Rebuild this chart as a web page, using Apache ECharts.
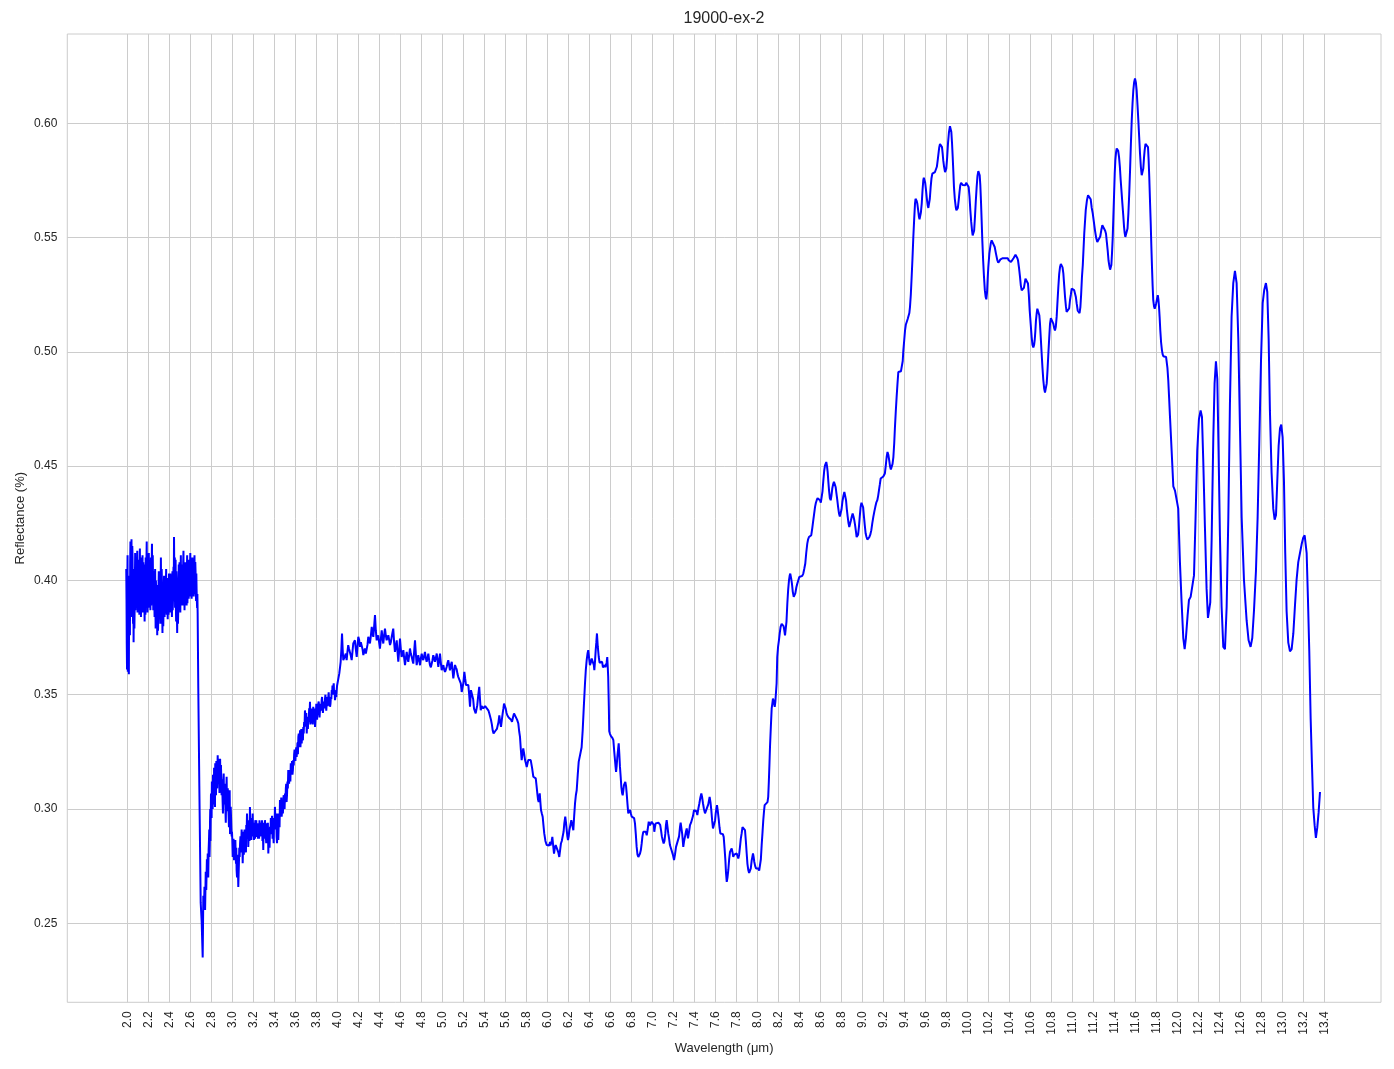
<!DOCTYPE html>
<html><head><meta charset="utf-8">
<script src="https://cdn.jsdelivr.net/npm/echarts@6/dist/echarts.min.js"></script>
<style>html,body{margin:0;padding:0;background:#fff}#c{width:1394px;height:1069px}</style>
</head><body><div id="c"></div><script>
// [wavelength (µm), reflectance]
const nirBand = [[1.990,0.405],[1.995,0.372],[2.000,0.398],[2.005,0.360],[2.010,0.389],[2.015,0.359],[2.020,0.402],[2.025,0.376],[2.030,0.417],[2.035,0.384],[2.040,0.418],[2.045,0.392],[2.050,0.410],[2.055,0.381],[2.060,0.373],[2.065,0.405],[2.070,0.388],[2.075,0.412],[2.080,0.393],[2.085,0.406],[2.090,0.389],[2.095,0.413],[2.100,0.395],[2.105,0.388],[2.110,0.409],[2.115,0.385],[2.120,0.414],[2.125,0.398],[2.130,0.384],[2.135,0.407],[2.140,0.392],[2.145,0.411],[2.150,0.394],[2.155,0.386],[2.160,0.404],[2.165,0.382],[2.170,0.396],[2.175,0.410],[2.180,0.391],[2.185,0.417],[2.190,0.399],[2.195,0.407],[2.200,0.388],[2.205,0.412],[2.210,0.393],[2.215,0.403],[2.220,0.387],[2.225,0.410],[2.230,0.395],[2.235,0.416],[2.240,0.392],[2.245,0.401],[2.250,0.389],[2.255,0.398],[2.260,0.384],[2.265,0.405],[2.270,0.379],[2.275,0.394],[2.280,0.386],[2.285,0.376],[2.290,0.398],[2.295,0.383],[2.300,0.404],[2.305,0.388],[2.310,0.396],[2.315,0.381],[2.320,0.410],[2.325,0.387],[2.330,0.399],[2.335,0.377],[2.340,0.393],[2.345,0.386],[2.350,0.402],[2.355,0.384],[2.360,0.397],[2.365,0.389],[2.370,0.405],[2.375,0.385],[2.380,0.395],[2.385,0.383],[2.390,0.401],[2.395,0.390],[2.400,0.397],[2.405,0.386],[2.410,0.403],[2.415,0.392],[2.420,0.399],[2.425,0.384],[2.430,0.404],[2.435,0.391],[2.440,0.406],[2.445,0.419],[2.450,0.395],[2.455,0.388],[2.460,0.409],[2.465,0.382],[2.470,0.400],[2.475,0.377],[2.480,0.393],[2.485,0.386],[2.490,0.407],[2.495,0.390],[2.500,0.402],[2.505,0.386],[2.510,0.411],[2.515,0.395],[2.520,0.389],[2.525,0.405],[2.530,0.392],[2.535,0.413],[2.540,0.396],[2.545,0.387],[2.550,0.408],[2.555,0.394],[2.560,0.402],[2.565,0.389],[2.570,0.411],[2.575,0.397],[2.580,0.404],[2.585,0.392],[2.590,0.409],[2.595,0.398],[2.600,0.412],[2.605,0.393],[2.610,0.403],[2.615,0.396],[2.620,0.410],[2.625,0.394],[2.630,0.406],[2.635,0.399],[2.640,0.411],[2.645,0.397],[2.650,0.404],[2.655,0.391],[2.660,0.396],[2.665,0.388],[2.670,0.386]];

const nirBandFine = [[1.9925,0.392],[1.9975,0.361],[2.0025,0.411],[2.0075,0.395],[2.0125,0.368],[2.0175,0.398],[2.0225,0.385],[2.0275,0.408],[2.0325,0.395],[2.0375,0.409],[2.0425,0.386],[2.0475,0.415],[2.0525,0.389],[2.0575,0.402],[2.0625,0.398],[2.0675,0.379],[2.0725,0.401],[2.0775,0.387],[2.0825,0.410],[2.0875,0.391],[2.0925,0.402],[2.0975,0.386],[2.1025,0.408],[2.1075,0.400],[2.1125,0.393],[2.1175,0.406],[2.1225,0.389],[2.1275,0.410],[2.1325,0.396],[2.1375,0.386],[2.1425,0.404],[2.1475,0.389],[2.1525,0.408],[2.1575,0.397],[2.1625,0.390],[2.1675,0.407],[2.1725,0.385],[2.1775,0.398],[2.1825,0.409],[2.1875,0.393],[2.1925,0.386],[2.1975,0.395],[2.2025,0.402],[2.2075,0.390],[2.2125,0.408],[2.2175,0.392],[2.2225,0.402],[2.2275,0.389],[2.2325,0.407],[2.2375,0.400],[2.2425,0.411],[2.2475,0.387],[2.2525,0.404],[2.2575,0.390],[2.2625,0.399],[2.2675,0.390],[2.2725,0.400],[2.2775,0.380],[2.2825,0.398],[2.2875,0.389],[2.2925,0.378],[2.2975,0.397],[2.3025,0.385],[2.3075,0.401],[2.3125,0.389],[2.3175,0.398],[2.3225,0.393],[2.3275,0.405],[2.3325,0.386],[2.3375,0.399],[2.3425,0.380],[2.3475,0.396],[2.3525,0.391],[2.3575,0.400],[2.3625,0.386],[2.3675,0.398],[2.3725,0.392],[2.3775,0.401],[2.3825,0.389],[2.3875,0.397],[2.3925,0.385],[2.3975,0.403],[2.4025,0.391],[2.4075,0.399],[2.4125,0.388],[2.4175,0.402],[2.4225,0.390],[2.4275,0.398],[2.4325,0.387],[2.4375,0.400],[2.4425,0.395],[2.4475,0.404],[2.4525,0.410],[2.4575,0.396],[2.4625,0.390],[2.4675,0.404],[2.4725,0.386],[2.4775,0.397],[2.4825,0.381],[2.4875,0.398],[2.4925,0.392],[2.4975,0.408],[2.5025,0.391],[2.5075,0.404],[2.5125,0.390],[2.5175,0.407],[2.5225,0.399],[2.5275,0.391],[2.5325,0.408],[2.5375,0.389],[2.5425,0.405],[2.5475,0.399],[2.5525,0.390],[2.5575,0.406],[2.5625,0.395],[2.5675,0.404],[2.5725,0.390],[2.5775,0.409],[2.5825,0.399],[2.5875,0.403],[2.5925,0.393],[2.5975,0.407],[2.6025,0.401],[2.6075,0.409],[2.6125,0.392],[2.6175,0.405],[2.6225,0.398],[2.6275,0.409],[2.6325,0.393],[2.6375,0.405],[2.6425,0.394],[2.6475,0.408],[2.6525,0.397],[2.6575,0.403],[2.6625,0.391],[2.6675,0.394]];

const dropBand = [[2.676,0.353],[2.686,0.310],[2.699,0.259],[2.708,0.251],[2.718,0.235],[2.724,0.262],[2.730,0.2565],[2.735,0.266],[2.741,0.2558],[2.747,0.2725],[2.752,0.2645],[2.758,0.278],[2.766,0.2805],[2.771,0.270],[2.778,0.2864],[2.783,0.279],[2.788,0.2951],[2.792,0.286],[2.797,0.3068],[2.803,0.296],[2.808,0.309],[2.813,0.300],[2.819,0.3111],[2.824,0.302],[2.829,0.313],[2.835,0.3009],[2.840,0.316],[2.845,0.306],[2.851,0.3184],[2.856,0.309],[2.861,0.3235],[2.866,0.311],[2.873,0.317],[2.878,0.307],[2.884,0.322],[2.892,0.3192],[2.898,0.306],[2.905,0.3082],[2.911,0.298],[2.918,0.3155],[2.924,0.302],[2.930,0.3053],[2.938,0.294],[2.946,0.3141],[2.952,0.299],[2.962,0.3009],[2.968,0.292],[2.975,0.3082],[2.982,0.295],[2.988,0.2966],[2.994,0.288]];

const dropBandFine = [[2.762,0.271],[2.7685,0.276],[2.7745,0.282],[2.7805,0.291],[2.7855,0.284],[2.790,0.300],[2.7945,0.297],[2.800,0.302],[2.8055,0.312],[2.8105,0.304],[2.816,0.315],[2.8215,0.306],[2.8265,0.318],[2.832,0.307],[2.8375,0.320],[2.8425,0.310],[2.848,0.321],[2.8535,0.312],[2.8585,0.318],[2.8635,0.314],[2.8695,0.322],[2.8755,0.312],[2.881,0.316],[2.888,0.309],[2.895,0.320],[2.9015,0.313],[2.908,0.303],[2.9145,0.312],[2.921,0.306],[2.927,0.311],[2.934,0.301],[2.942,0.307],[2.949,0.303],[2.957,0.309],[2.965,0.297],[2.9715,0.302],[2.9785,0.289],[2.985,0.301],[2.991,0.292],[2.997,0.290]];

const swirBand = [[3.000,0.2864],[3.008,0.281],[3.016,0.2776],[3.022,0.285],[3.029,0.2864],[3.035,0.276],[3.041,0.2733],[3.049,0.280],[3.057,0.2659],[3.063,0.276],[3.070,0.279],[3.078,0.288],[3.086,0.2864],[3.092,0.281],[3.099,0.2762],[3.106,0.290],[3.114,0.2893],[3.120,0.284],[3.127,0.2864],[3.133,0.293],[3.140,0.298],[3.146,0.287],[3.152,0.2834],[3.160,0.295],[3.168,0.3009],[3.174,0.290],[3.181,0.2864],[3.188,0.294],[3.194,0.298],[3.200,0.288],[3.206,0.2864],[3.213,0.292],[3.219,0.2951],[3.225,0.289],[3.232,0.2878],[3.240,0.293],[3.248,0.2937],[3.255,0.287],[3.263,0.2893],[3.270,0.294],[3.279,0.2922],[3.287,0.286],[3.295,0.282],[3.303,0.290],[3.311,0.2951],[3.319,0.289],[3.327,0.2937],[3.335,0.287],[3.343,0.2805],[3.351,0.290],[3.359,0.2922],[3.367,0.296],[3.375,0.2951],[3.383,0.287],[3.390,0.2893],[3.398,0.296],[3.406,0.3009],[3.414,0.292],[3.422,0.2878],[3.430,0.293],[3.438,0.2864],[3.446,0.297],[3.454,0.3039],[3.462,0.299],[3.470,0.2966],[3.478,0.303],[3.486,0.3046],[3.494,0.301],[3.502,0.3068],[3.510,0.309],[3.517,0.3031],[3.525,0.312],[3.533,0.317],[3.541,0.311],[3.549,0.3141],[3.557,0.320],[3.565,0.3177],[3.573,0.315],[3.581,0.3214],[3.589,0.324],[3.597,0.3232],[3.605,0.3254],[3.613,0.3228],[3.621,0.329],[3.629,0.3315],[3.637,0.327],[3.645,0.3344],[3.653,0.331],[3.661,0.3287],[3.669,0.334],[3.676,0.3359],[3.684,0.338],[3.692,0.3431],[3.700,0.337],[3.709,0.333],[3.716,0.339],[3.724,0.3403],[3.732,0.344],[3.740,0.3469],[3.748,0.341],[3.756,0.3374],[3.763,0.342],[3.771,0.3447],[3.779,0.339],[3.788,0.3359],[3.796,0.341],[3.804,0.3447],[3.811,0.343],[3.819,0.3461],[3.827,0.344],[3.835,0.3431],[3.843,0.346],[3.851,0.3476],[3.859,0.345],[3.867,0.3447],[3.875,0.347],[3.883,0.3483],[3.891,0.346],[3.899,0.3461],[3.906,0.349],[3.914,0.349],[3.922,0.347],[3.931,0.3447],[3.939,0.349],[3.947,0.352],[3.954,0.354],[3.962,0.3534],[3.970,0.350],[3.978,0.3476],[3.986,0.351],[3.994,0.352]];

const swirBandFine = [[3.004,0.279],[3.012,0.287],[3.019,0.282],[3.0255,0.279],[3.032,0.281],[3.038,0.283],[3.045,0.270],[3.053,0.275],[3.060,0.271],[3.0665,0.283],[3.074,0.285],[3.082,0.281],[3.089,0.291],[3.0955,0.286],[3.1025,0.284],[3.110,0.280],[3.117,0.291],[3.1235,0.289],[3.130,0.281],[3.1365,0.289],[3.143,0.292],[3.149,0.295],[3.156,0.289],[3.164,0.286],[3.171,0.295],[3.1775,0.296],[3.1845,0.291],[3.191,0.288],[3.197,0.292],[3.203,0.294],[3.2095,0.289],[3.216,0.287],[3.222,0.293],[3.2285,0.295],[3.236,0.289],[3.244,0.287],[3.2515,0.292],[3.259,0.295],[3.2665,0.288],[3.2745,0.289],[3.283,0.295],[3.291,0.291],[3.299,0.294],[3.307,0.287],[3.315,0.292],[3.323,0.285],[3.331,0.292],[3.339,0.294],[3.347,0.288],[3.355,0.283],[3.363,0.289],[3.371,0.290],[3.379,0.297],[3.3865,0.293],[3.394,0.285],[3.402,0.291],[3.410,0.296],[3.418,0.298],[3.426,0.285],[3.434,0.298],[3.442,0.293],[3.450,0.292],[3.458,0.297],[3.466,0.305],[3.474,0.299],[3.482,0.298],[3.490,0.306],[3.498,0.300],[3.506,0.303],[3.5135,0.311],[3.521,0.306],[3.529,0.309],[3.537,0.313],[3.545,0.317],[3.553,0.312],[3.561,0.316],[3.569,0.321],[3.577,0.317],[3.585,0.319],[3.593,0.326],[3.601,0.321],[3.609,0.327],[3.617,0.326],[3.625,0.324],[3.633,0.333],[3.641,0.329],[3.649,0.327],[3.657,0.335],[3.665,0.333],[3.6725,0.330],[3.680,0.333],[3.688,0.336],[3.696,0.341],[3.7045,0.342],[3.7125,0.338],[3.720,0.335],[3.728,0.338],[3.736,0.341],[3.744,0.337],[3.752,0.344],[3.7595,0.339],[3.767,0.337],[3.775,0.342],[3.7835,0.344],[3.792,0.339],[3.800,0.346],[3.8075,0.339],[3.815,0.341],[3.823,0.347],[3.831,0.340],[3.839,0.344],[3.847,0.343],[3.855,0.349],[3.863,0.342],[3.871,0.345],[3.879,0.344],[3.887,0.350],[3.895,0.343],[3.9025,0.347],[3.910,0.345],[3.918,0.351],[3.9265,0.349],[3.935,0.346],[3.943,0.348],[3.9505,0.350],[3.958,0.350],[3.966,0.355],[3.974,0.352],[3.982,0.349],[3.990,0.349],[3.998,0.354]];

const mwirBand = [[4.002,0.355],[4.010,0.3549],[4.019,0.3593],[4.026,0.362],[4.032,0.3644],[4.039,0.370],[4.045,0.3768],[4.051,0.370],[4.057,0.3651],[4.065,0.366],[4.073,0.3658],[4.081,0.368],[4.089,0.3651],[4.097,0.369],[4.104,0.3717],[4.112,0.370],[4.121,0.3695],[4.129,0.367],[4.137,0.3651],[4.145,0.369],[4.152,0.3724],[4.160,0.373],[4.168,0.3738],[4.176,0.370],[4.185,0.3665],[4.192,0.371],[4.200,0.3753],[4.208,0.374],[4.216,0.3709],[4.224,0.373],[4.232,0.3738],[4.240,0.370],[4.248,0.3673],[4.256,0.369],[4.264,0.3702],[4.272,0.368],[4.280,0.3673],[4.288,0.372],[4.295,0.3753],[4.303,0.374],[4.311,0.3724],[4.320,0.376],[4.328,0.3797],[4.335,0.377],[4.343,0.3753],[4.351,0.380],[4.359,0.3848],[4.367,0.378],[4.375,0.3738],[4.383,0.375],[4.390,0.376],[4.398,0.373],[4.406,0.3702],[4.414,0.374],[4.423,0.3782],[4.430,0.375],[4.438,0.3724],[4.446,0.376],[4.454,0.3789],[4.462,0.376],[4.470,0.3738],[4.478,0.375],[4.486,0.376],[4.494,0.374],[4.502,0.3717],[4.510,0.373],[4.518,0.3753],[4.525,0.377],[4.533,0.3789],[4.541,0.373],[4.549,0.3687],[4.557,0.371],[4.566,0.3738],[4.573,0.369],[4.581,0.3644],[4.589,0.369],[4.597,0.3746],[4.605,0.370],[4.613,0.3665],[4.621,0.368],[4.629,0.3695],[4.637,0.366],[4.645,0.3629],[4.653,0.366],[4.661,0.3687],[4.669,0.366],[4.676,0.3644],[4.684,0.367],[4.692,0.3702],[4.700,0.368],[4.709,0.3665],[4.716,0.365],[4.724,0.3636],[4.732,0.369],[4.740,0.3738],[4.748,0.368],[4.756,0.3629],[4.763,0.365],[4.771,0.3673],[4.780,0.365],[4.788,0.3629],[4.796,0.366],[4.804,0.368],[4.811,0.366],[4.819,0.3651],[4.827,0.367],[4.835,0.3687],[4.843,0.366],[4.851,0.3644],[4.859,0.366],[4.867,0.368],[4.875,0.365],[4.883,0.3629],[4.891,0.362],[4.899,0.3615],[4.906,0.365],[4.914,0.3673],[4.922,0.366],[4.930,0.3644],[4.938,0.366],[4.947,0.368],[4.955,0.365],[4.962,0.3622],[4.970,0.365],[4.978,0.368],[4.986,0.364],[4.994,0.3607],[5.002,0.362],[5.010,0.3629],[5.018,0.361],[5.026,0.360],[5.034,0.361],[5.042,0.3622],[5.050,0.364],[5.057,0.3651],[5.065,0.363],[5.073,0.3607],[5.081,0.363],[5.090,0.3644],[5.097,0.361],[5.105,0.3571],[5.113,0.360],[5.121,0.363],[5.129,0.362],[5.137,0.3611],[5.145,0.359],[5.152,0.3578],[5.160,0.358],[5.168,0.3585],[5.176,0.355],[5.185,0.3512],[5.192,0.353],[5.200,0.3549]];

const midBand = [[5.210,0.360],[5.218,0.357],[5.226,0.3542],[5.236,0.355],[5.248,0.3542],[5.256,0.350],[5.264,0.3447],[5.273,0.352],[5.286,0.352],[5.294,0.348],[5.302,0.3439],[5.318,0.3418],[5.333,0.3454],[5.343,0.350],[5.352,0.3534],[5.359,0.348],[5.366,0.3432],[5.374,0.345],[5.381,0.3454],[5.390,0.344],[5.400,0.3432],[5.408,0.345],[5.416,0.345],[5.424,0.344],[5.432,0.3439],[5.440,0.343],[5.448,0.3418],[5.456,0.341],[5.464,0.3389],[5.472,0.337],[5.480,0.3344],[5.488,0.333],[5.495,0.333],[5.503,0.334],[5.511,0.3337],[5.520,0.335],[5.528,0.3344],[5.535,0.338],[5.543,0.341],[5.551,0.338],[5.559,0.3359],[5.567,0.339],[5.575,0.3418],[5.582,0.344],[5.588,0.3461],[5.596,0.345],[5.604,0.3439],[5.612,0.342],[5.619,0.341],[5.632,0.340],[5.645,0.3403],[5.655,0.339],[5.664,0.3381],[5.673,0.340],[5.683,0.3418],[5.692,0.342],[5.702,0.341],[5.713,0.339],[5.724,0.3374],[5.732,0.334],[5.740,0.3315],[5.748,0.326],[5.756,0.3214],[5.763,0.324],[5.771,0.3265],[5.780,0.324],[5.788,0.3214],[5.796,0.320],[5.804,0.3184],[5.812,0.320],[5.819,0.3214],[5.830,0.3214],[5.842,0.3214],[5.855,0.318],[5.867,0.3141],[5.878,0.314],[5.890,0.3134],[5.898,0.310],[5.905,0.3068],[5.912,0.304],[5.918,0.3031],[5.923,0.305],[5.928,0.3068],[5.934,0.303],[5.940,0.2995],[5.948,0.298],[5.956,0.2966],[5.963,0.293],[5.971,0.2893],[5.982,0.286],[5.994,0.2842],[6.002,0.284],[6.010,0.2834],[6.018,0.284],[6.026,0.2856],[6.030,0.284],[6.035,0.2834],[6.042,0.286],[6.048,0.2878],[6.056,0.284],[6.064,0.2805],[6.072,0.283],[6.080,0.2842],[6.088,0.284],[6.095,0.2834],[6.105,0.281],[6.114,0.279],[6.122,0.282],[6.130,0.2849],[6.138,0.286],[6.147,0.2864],[6.155,0.290],[6.162,0.2937],[6.171,0.2966],[6.178,0.294],[6.185,0.2907],[6.191,0.288],[6.197,0.2864],[6.204,0.288],[6.210,0.2907],[6.220,0.293],[6.229,0.2951],[6.238,0.293],[6.248,0.2907],[6.256,0.297],[6.264,0.3024],[6.272,0.306],[6.280,0.3082],[6.290,0.315],[6.299,0.3206],[6.308,0.321],[6.318,0.3214],[6.327,0.327],[6.337,0.3344],[6.348,0.345],[6.359,0.3549],[6.367,0.361],[6.375,0.3651],[6.383,0.368],[6.390,0.3695],[6.398,0.366],[6.406,0.3629],[6.414,0.364],[6.423,0.3658],[6.430,0.366],[6.438,0.3651],[6.443,0.363],[6.448,0.3607],[6.455,0.365],[6.461,0.3695],[6.467,0.373],[6.473,0.3768],[6.481,0.371],[6.490,0.3665],[6.498,0.364],[6.506,0.3636],[6.514,0.364],[6.522,0.3644],[6.530,0.362],[6.535,0.3615],[6.542,0.362],[6.548,0.3629],[6.553,0.362],[6.557,0.3615],[6.565,0.364],[6.571,0.3665],[6.576,0.362],[6.580,0.3578],[6.586,0.345],[6.590,0.334]];

const lwirBand = [[6.596,0.333],[6.605,0.332],[6.613,0.3315],[6.621,0.331],[6.629,0.3301],[6.636,0.326],[6.642,0.3228],[6.649,0.319],[6.655,0.3162],[6.661,0.319],[6.667,0.3228],[6.674,0.326],[6.680,0.3287],[6.686,0.324],[6.692,0.3184],[6.699,0.314],[6.705,0.3097],[6.712,0.307],[6.718,0.306],[6.724,0.308],[6.730,0.3104],[6.737,0.311],[6.743,0.3118],[6.750,0.310],[6.756,0.3068],[6.764,0.302],[6.771,0.2981],[6.779,0.298],[6.788,0.2995],[6.796,0.298],[6.804,0.2966],[6.812,0.2966],[6.819,0.2966],[6.827,0.296],[6.835,0.2937],[6.843,0.289],[6.851,0.2834],[6.859,0.280],[6.867,0.279],[6.875,0.2795],[6.883,0.2805],[6.891,0.282],[6.899,0.2849],[6.906,0.288],[6.914,0.290],[6.922,0.2907],[6.930,0.2907],[6.938,0.290],[6.947,0.2885],[6.956,0.291],[6.966,0.2944],[6.972,0.294],[6.978,0.2929],[6.986,0.293],[6.994,0.2944],[7.002,0.295],[7.010,0.2951],[7.015,0.293],[7.019,0.290],[7.025,0.292],[7.032,0.2937],[7.040,0.294],[7.048,0.2944],[7.058,0.294],[7.067,0.2937],[7.075,0.293],[7.083,0.2907],[7.091,0.288],[7.099,0.2864],[7.108,0.2849],[7.116,0.286],[7.124,0.2893],[7.130,0.293],[7.137,0.2951],[7.145,0.292],[7.152,0.2893],[7.160,0.287],[7.168,0.2842],[7.176,0.283],[7.185,0.2827],[7.196,0.280],[7.207,0.2776],[7.216,0.280],[7.226,0.2834],[7.236,0.284],[7.245,0.2842],[7.255,0.288],[7.264,0.2922],[7.270,0.294],[7.276,0.2937],[7.285,0.289],[7.295,0.2834],[7.303,0.286],[7.311,0.2878],[7.320,0.290],[7.328,0.2915],[7.334,0.289],[7.340,0.2871],[7.350,0.290],[7.359,0.2929],[7.369,0.294],[7.378,0.2944],[7.388,0.297],[7.397,0.2995],[7.404,0.300],[7.410,0.3002],[7.420,0.299],[7.429,0.2973],[7.438,0.300],[7.448,0.3024],[7.458,0.305],[7.467,0.3068],[7.475,0.305],[7.483,0.3024],[7.492,0.300],[7.502,0.2981],[7.511,0.298],[7.521,0.2988],[7.533,0.302],[7.546,0.3053],[7.554,0.303],[7.562,0.2995],[7.570,0.295],[7.578,0.2915],[7.585,0.291],[7.591,0.2907],[7.598,0.295],[7.604,0.2981],[7.610,0.300],[7.616,0.3017],[7.624,0.299],[7.632,0.2958],[7.640,0.292],[7.648,0.2893],[7.656,0.290],[7.664,0.290],[7.672,0.289],[7.680,0.2878],[7.688,0.283],[7.696,0.2776],[7.702,0.272],[7.709,0.2681],[7.716,0.270],[7.724,0.2733],[7.732,0.278],[7.740,0.2812],[7.748,0.282],[7.756,0.2827],[7.764,0.281],[7.771,0.279],[7.780,0.280],[7.788,0.2805],[7.796,0.2805],[7.804,0.2805],[7.812,0.280],[7.819,0.2783],[7.827,0.280],[7.835,0.2834],[7.843,0.287],[7.851,0.2893],[7.859,0.292],[7.867,0.2922],[7.875,0.292],[7.883,0.2907],[7.891,0.286],[7.899,0.2805],[7.906,0.276],[7.914,0.2733],[7.922,0.272],[7.930,0.2725],[7.938,0.274],[7.947,0.2776],[7.953,0.279],[7.959,0.2805],[7.965,0.279],[7.971,0.2769],[7.980,0.275],[7.988,0.274],[7.999,0.274],[8.010,0.274],[8.018,0.273],[8.026,0.2733],[8.034,0.278],[8.042,0.2845],[8.050,0.290],[8.057,0.2951],[8.064,0.299],[8.070,0.3017],[8.080,0.3017],[8.089,0.3017],[8.097,0.303],[8.104,0.3053],[8.110,0.312],[8.116,0.320],[8.121,0.3272],[8.130,0.337],[8.137,0.344],[8.143,0.346],[8.149,0.3483],[8.157,0.347],[8.166,0.3447],[8.172,0.347],[8.178,0.3476],[8.184,0.355],[8.190,0.3665],[8.198,0.371]];

const riseBand = [[8.206,0.3738],[8.214,0.377],[8.222,0.3797],[8.232,0.381],[8.242,0.3818],[8.250,0.380],[8.257,0.3782],[8.264,0.376],[8.270,0.3753],[8.278,0.382],[8.286,0.3899],[8.294,0.396],[8.302,0.4001],[8.308,0.402],[8.314,0.403],[8.322,0.401],[8.330,0.3986],[8.338,0.395],[8.347,0.3928],[8.355,0.393],[8.362,0.3943],[8.372,0.397],[8.381,0.3986],[8.390,0.400],[8.400,0.4015],[8.410,0.4015],[8.419,0.4015],[8.428,0.402],[8.438,0.403],[8.447,0.405],[8.457,0.4074],[8.466,0.412],[8.476,0.4161],[8.484,0.418],[8.492,0.419],[8.503,0.419],[8.514,0.4198],[8.524,0.423],[8.533,0.4263],[8.541,0.429],[8.550,0.4322],[8.558,0.434],[8.566,0.4351],[8.574,0.436],[8.581,0.4365],[8.590,0.436],[8.597,0.4351],[8.605,0.434],[8.613,0.4343],[8.621,0.439],[8.629,0.4438],[8.637,0.448],[8.645,0.4504],[8.651,0.451],[8.657,0.4518],[8.664,0.450],[8.670,0.4475],[8.677,0.443],[8.683,0.4395],[8.691,0.436],[8.699,0.4351],[8.706,0.437],[8.714,0.4402],[8.722,0.442],[8.730,0.4431],[8.738,0.442],[8.746,0.4409],[8.754,0.438],[8.762,0.4351],[8.770,0.432],[8.778,0.4293],[8.786,0.428],[8.794,0.4278],[8.802,0.431],[8.810,0.4343],[8.820,0.437],[8.829,0.4387],[8.837,0.437],[8.845,0.4351],[8.853,0.431],[8.861,0.4278],[8.869,0.425],[8.876,0.4234],[8.884,0.424],[8.892,0.4263],[8.900,0.428],[8.908,0.4293],[8.916,0.428],[8.924,0.4263],[8.932,0.424],[8.940,0.4212],[8.946,0.419],[8.952,0.4183],[8.960,0.420],[8.968,0.4234],[8.976,0.428],[8.984,0.4322],[8.992,0.434],[9.000,0.4343],[9.008,0.432],[9.016,0.4278],[9.024,0.424],[9.032,0.4205],[9.040,0.419],[9.048,0.4179],[9.058,0.418],[9.067,0.419],[9.076,0.420],[9.086,0.422],[9.095,0.425],[9.105,0.4278],[9.114,0.430],[9.124,0.4322],[9.133,0.434],[9.143,0.4351],[9.151,0.437],[9.159,0.4395],[9.167,0.442],[9.175,0.4446],[9.183,0.445],[9.190,0.4453],[9.200,0.4455],[9.207,0.446],[9.215,0.4468],[9.223,0.450],[9.232,0.454],[9.240,0.4562],[9.248,0.455],[9.256,0.4526],[9.264,0.450],[9.272,0.4485],[9.280,0.4485],[9.288,0.451],[9.296,0.454],[9.304,0.460],[9.311,0.4671],[9.319,0.474],[9.327,0.4803],[9.335,0.486],[9.343,0.4912],[9.351,0.492],[9.359,0.492],[9.368,0.4915],[9.378,0.4912],[9.385,0.496],[9.391,0.5007],[9.399,0.505]];

const peakBand = [[9.407,0.5094],[9.415,0.512],[9.423,0.5131],[9.433,0.5145],[9.442,0.5153],[9.448,0.517],[9.454,0.5196],[9.462,0.525],[9.470,0.5328],[9.478,0.541],[9.486,0.5503],[9.494,0.558],[9.502,0.5649],[9.507,0.567],[9.512,0.5675],[9.518,0.566],[9.524,0.5649],[9.532,0.562],[9.540,0.559],[9.545,0.558],[9.550,0.5583],[9.558,0.561],[9.566,0.5649],[9.574,0.571],[9.581,0.5751],[9.586,0.5762],[9.591,0.5765],[9.599,0.574],[9.607,0.5707],[9.615,0.567],[9.623,0.5641],[9.629,0.563],[9.635,0.5634],[9.643,0.567],[9.651,0.5721],[9.659,0.576],[9.667,0.578],[9.675,0.5787],[9.683,0.5787],[9.692,0.5787],[9.702,0.5787],[9.710,0.581],[9.718,0.5838],[9.726,0.587],[9.733,0.5896],[9.740,0.591],[9.747,0.5916],[9.753,0.591],[9.759,0.5896],[9.765,0.587],[9.771,0.5838],[9.779,0.581],[9.788,0.5787],[9.794,0.579],[9.800,0.5802],[9.808,0.585],[9.816,0.5911],[9.825,0.596],[9.835,0.5988],[9.841,0.598],[9.848,0.5962],[9.855,0.591],[9.861,0.5853],[9.867,0.579],[9.873,0.5721],[9.881,0.567],[9.890,0.5634],[9.896,0.562],[9.902,0.5612],[9.910,0.563],[9.918,0.5663],[9.926,0.570],[9.933,0.5729],[9.941,0.574],[9.949,0.5743],[9.957,0.573],[9.965,0.5724],[9.973,0.573],[9.981,0.5729],[9.989,0.574],[9.997,0.5743],[10.005,0.574],[10.013,0.5721],[10.021,0.568],[10.029,0.5619],[10.037,0.557],[10.045,0.5532],[10.051,0.551],[10.057,0.5503],[10.065,0.553],[10.073,0.559],[10.081,0.566],[10.089,0.5721],[10.097,0.577],[10.105,0.5791],[10.111,0.579],[10.118,0.5773],[10.124,0.573],[10.130,0.5663],[10.137,0.557],[10.143,0.5488],[10.151,0.540],[10.159,0.5328],[10.167,0.527],[10.175,0.524],[10.181,0.523],[10.188,0.526],[10.194,0.532],[10.200,0.537],[10.210,0.543],[10.223,0.5474],[10.232,0.5488],[10.242,0.5491],[10.251,0.548],[10.261,0.5459],[10.273,0.543],[10.286,0.5401],[10.295,0.539],[10.305,0.5393],[10.316,0.5405],[10.327,0.5413],[10.338,0.541],[10.350,0.5405],[10.362,0.541],[10.375,0.5413],[10.385,0.541],[10.394,0.5401]];

const plateauBand = [[10.405,0.5395],[10.416,0.5393],[10.424,0.540],[10.432,0.5401],[10.440,0.541],[10.448,0.5418],[10.459,0.5425],[10.470,0.5426],[10.477,0.541],[10.483,0.5401],[10.492,0.537],[10.502,0.5328],[10.510,0.529],[10.518,0.5269],[10.525,0.5262],[10.531,0.5262],[10.539,0.528],[10.546,0.5299],[10.554,0.532],[10.562,0.5325],[10.570,0.532],[10.578,0.5299],[10.586,0.525],[10.594,0.5182],[10.604,0.512],[10.613,0.5065],[10.621,0.503],[10.629,0.5019],[10.636,0.503],[10.642,0.5051],[10.648,0.509],[10.654,0.5138],[10.661,0.517],[10.667,0.5189],[10.674,0.5195],[10.680,0.5189],[10.686,0.516],[10.692,0.5124],[10.700,0.506],[10.708,0.4993],[10.716,0.493],[10.724,0.4876],[10.732,0.484],[10.740,0.4822],[10.748,0.483],[10.756,0.4861],[10.764,0.492],[10.772,0.4993],[10.780,0.506],[10.788,0.5124],[10.796,0.5148],[10.804,0.5153],[10.812,0.514],[10.819,0.5124],[10.827,0.5105],[10.835,0.5094],[10.843,0.511],[10.851,0.5153],[10.859,0.522],[10.867,0.5284],[10.875,0.534],[10.883,0.5371],[10.891,0.5385],[10.899,0.5389],[10.907,0.537],[10.915,0.5342],[10.923,0.529],[10.931,0.524],[10.939,0.520],[10.946,0.5175],[10.954,0.5168],[10.962,0.5167],[10.970,0.519],[10.978,0.5226],[10.986,0.525],[10.994,0.5277],[11.002,0.5284],[11.010,0.5284],[11.018,0.527],[11.026,0.5262],[11.034,0.524],[11.042,0.5211],[11.052,0.518],[11.061,0.5172],[11.069,0.517],[11.077,0.5196],[11.084,0.525],[11.092,0.5328],[11.100,0.538],[11.114,0.552],[11.128,0.562],[11.140,0.5665],[11.150,0.5685],[11.158,0.5689],[11.167,0.568],[11.175,0.5668],[11.185,0.563],[11.195,0.5605],[11.205,0.557],[11.216,0.5532],[11.227,0.550],[11.238,0.5481],[11.247,0.5476],[11.256,0.5485],[11.266,0.5505],[11.276,0.5532],[11.286,0.5554],[11.296,0.5556],[11.305,0.5554],[11.313,0.553],[11.321,0.5517],[11.329,0.548],[11.337,0.5444],[11.345,0.540],[11.352,0.5379],[11.360,0.536],[11.366,0.536],[11.372,0.538],[11.378,0.543],[11.385,0.550],[11.391,0.559],[11.398,0.569],[11.404,0.578],[11.410,0.584],[11.417,0.5874],[11.423,0.589],[11.429,0.5894],[11.437,0.588],[11.445,0.5853],[11.453,0.581],[11.461,0.5751],[11.469,0.570],[11.477,0.5649],[11.485,0.560],[11.493,0.5546],[11.499,0.552],[11.505,0.5503],[11.512,0.550],[11.518,0.5503],[11.526,0.554],[11.534,0.5605],[11.542,0.569],[11.550,0.5794],[11.558,0.591],[11.566,0.6013],[11.574,0.609],[11.581,0.6144],[11.589,0.618],[11.597,0.6196],[11.605,0.618],[11.613,0.6144],[11.621,0.608],[11.629,0.6013],[11.637,0.594],[11.645,0.5867],[11.653,0.581],[11.661,0.5773],[11.668,0.578],[11.676,0.5802],[11.683,0.585],[11.689,0.5882],[11.697,0.591],[11.705,0.5918],[11.713,0.591],[11.721,0.5896],[11.727,0.584],[11.733,0.5765],[11.740,0.566],[11.747,0.5561],[11.753,0.546],[11.759,0.5371],[11.765,0.529],[11.771,0.5226],[11.778,0.520],[11.785,0.5189],[11.791,0.519],[11.798,0.5211],[11.806,0.523],[11.814,0.5248],[11.820,0.523],[11.826,0.5196],[11.832,0.515],[11.838,0.5094],[11.846,0.504],[11.854,0.5007],[11.860,0.499],[11.867,0.4981],[11.876,0.498],[11.886,0.4981],[11.893,0.4978],[11.899,0.4971],[11.906,0.493],[11.914,0.4876],[11.922,0.480]];

const tailBand = [[11.930,0.472],[11.946,0.4568],[11.962,0.4412],[11.978,0.4393],[11.993,0.4393],[12.009,0.4314],[12.025,0.408],[12.041,0.3904],[12.057,0.3748],[12.070,0.3699],[12.082,0.3748],[12.098,0.3846],[12.111,0.3914],[12.127,0.3928],[12.143,0.3934],[12.159,0.4022],[12.174,0.4275],[12.190,0.4568],[12.206,0.4705],[12.222,0.4744],[12.235,0.4715],[12.247,0.4529],[12.263,0.4236],[12.279,0.3963],[12.292,0.3836],[12.301,0.3836],[12.314,0.3904],[12.327,0.4178],[12.343,0.4627],[12.355,0.4861],[12.368,0.4959],[12.381,0.4881],[12.393,0.4568],[12.406,0.4197],[12.422,0.3885],[12.438,0.3709],[12.454,0.3699],[12.470,0.3885],[12.486,0.4275],[12.501,0.4764],[12.517,0.5154],[12.533,0.5301],[12.549,0.5354],[12.565,0.5301],[12.581,0.5057],[12.597,0.4666],[12.613,0.4275],[12.635,0.4002],[12.660,0.3826],[12.679,0.3738],[12.698,0.3709],[12.714,0.3748],[12.730,0.3865],[12.749,0.4041],[12.765,0.4275],[12.781,0.4607],[12.797,0.4959],[12.813,0.5213],[12.828,0.5271],[12.844,0.5301],[12.857,0.5262],[12.870,0.5057],[12.882,0.4744],[12.898,0.4471],[12.914,0.4314],[12.927,0.4266],[12.940,0.4285],[12.952,0.4432],[12.965,0.4588],[12.978,0.4666],[12.990,0.4682],[13.003,0.4627],[13.016,0.4432],[13.028,0.4119],[13.041,0.3865],[13.057,0.3728],[13.073,0.369],[13.089,0.3699],[13.105,0.3768],[13.120,0.3885],[13.136,0.4002],[13.152,0.408],[13.168,0.4119],[13.184,0.4158],[13.200,0.4188],[13.213,0.4197],[13.222,0.4197],[13.232,0.4119],[13.244,0.3924],[13.257,0.369],[13.270,0.3397],[13.282,0.3201],[13.295,0.3006],[13.308,0.2928],[13.320,0.2873],[13.333,0.2918],[13.346,0.2986],[13.359,0.3074]];

const titleText = '19000-ex-2';
const xName = 'Wavelength (μm)';
const yName = 'Reflectance (%)';
const xTickRange = [2.0, 13.4, 0.2];   // first, last, step of tick labels
const yTickRange = [0.25, 0.60, 0.05];
const xView = [1.4286, 13.94];
const yView = [0.2154, 0.6391];

const spectrum = [].concat(nirBand, nirBandFine, dropBand, dropBandFine, swirBand, swirBandFine,
  mwirBand, midBand, lwirBand, riseBand, peakBand, plateauBand, tailBand)
  .sort((a, b) => a[0] - b[0]);

const FONT = '"Liberation Sans", Arial, Helvetica, sans-serif';
const TXT = '#262626';
const GRIDC = '#cccccc';

const chart = echarts.init(document.getElementById('c'), null, {renderer: 'canvas'});
chart.setOption({
  animation: false,
  backgroundColor: '#ffffff',
  textStyle: {fontFamily: FONT},
  title: {
    text: titleText, left: 724, top: 11, padding: 0, textAlign: 'center',
    textStyle: {fontSize: 16, fontWeight: 'normal', color: TXT, fontFamily: FONT}
  },
  grid: [
    {left: 67.3, right: 13, top: 34, bottom: 66.7, show: true, borderColor: GRIDC, borderWidth: 1, backgroundColor: 'transparent', containLabel: false, outerBoundsMode: 'none'},
    {left: 127.3, right: 69.7, top: 34, bottom: 66.7, containLabel: false, outerBoundsMode: 'none'},
    {left: 67.3, right: 13, top: 123.3, bottom: 145.7, containLabel: false, outerBoundsMode: 'none'}
  ],
  xAxis: [
    {gridIndex: 0, type: 'value', min: xView[0], max: xView[1],
     axisLine: {show: false}, axisTick: {show: false}, axisLabel: {show: false}, splitLine: {show: false},
     name: xName, nameLocation: 'middle', nameGap: 40,
     nameTextStyle: {fontSize: 13, color: TXT, fontFamily: FONT}},
    {gridIndex: 1, type: 'value', min: xTickRange[0], max: xTickRange[1], interval: xTickRange[2],
     axisLine: {show: false}, axisTick: {show: false},
     axisLabel: {rotate: 90, fontSize: 12, color: TXT, margin: 9, fontFamily: FONT, formatter: v => v.toFixed(1)},
     splitLine: {show: true, lineStyle: {color: GRIDC, width: 1}}},
    {gridIndex: 2, type: 'value', min: 0, max: 1, show: false}
  ],
  yAxis: [
    {gridIndex: 0, type: 'value', min: yView[0], max: yView[1],
     axisLine: {show: false}, axisTick: {show: false}, axisLabel: {show: false}, splitLine: {show: false},
     name: yName, nameLocation: 'middle', nameGap: 40,
     nameTextStyle: {fontSize: 13, color: TXT, fontFamily: FONT}},
    {gridIndex: 1, type: 'value', min: 0, max: 1, show: false},
    {gridIndex: 2, type: 'value', min: yTickRange[0], max: yTickRange[1], interval: yTickRange[2],
     axisLine: {show: false}, axisTick: {show: false},
     axisLabel: {fontSize: 12, color: TXT, margin: 10, fontFamily: FONT, formatter: v => v.toFixed(2)},
     splitLine: {show: true, lineStyle: {color: GRIDC, width: 1}}}
  ],
  series: [{
    type: 'line', xAxisIndex: 0, yAxisIndex: 0, data: spectrum,
    showSymbol: false, symbol: 'none', silent: true, clip: true,
    lineStyle: {color: '#0000ff', width: 2}, itemStyle: {color: '#0000ff'},
    z: 5
  }]
});
</script></body></html>
